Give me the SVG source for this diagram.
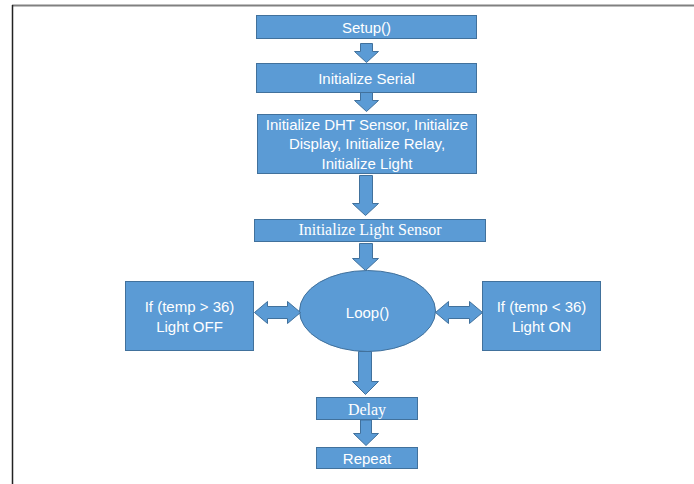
<svg xmlns="http://www.w3.org/2000/svg" width="694" height="484" viewBox="0 0 694 484">
<style>
.b{fill:#5B9BD5;stroke:#41719C;stroke-width:1}
.t{fill:#FFFFFF;font-family:"Liberation Sans",Arial,sans-serif;font-size:15px;text-anchor:middle;dominant-baseline:central}
.s{fill:#FFFFFF;font-family:"Liberation Serif","Times New Roman",serif;font-size:16px;text-anchor:middle;dominant-baseline:central}
</style>
<rect x="0" y="0" width="694" height="484" fill="#FFFFFF"/>
<line x1="12" y1="5.5" x2="694" y2="5.5" stroke="#808080" stroke-width="2"/>
<line x1="12.5" y1="5" x2="12.5" y2="484" stroke="#222222" stroke-width="1.5"/>

<g id="setup"><rect class="b" x="256.5" y="15.5" width="220" height="23"/><text class="t" x="366.5" y="27">Setup()</text></g>
<g id="serial"><rect class="b" x="256.5" y="63.5" width="220" height="29"/><text class="t" x="366.5" y="78">Initialize Serial</text></g>
<g id="init"><rect class="b" x="257.5" y="114.5" width="219" height="59"/>
<text class="t" x="367" y="124">Initialize DHT Sensor, Initialize</text>
<text class="t" x="367" y="143.5">Display, Initialize Relay,</text>
<text class="t" x="367" y="163">Initialize Light</text></g>
<g id="lightsensor"><rect class="b" x="254.5" y="219.5" width="231" height="22"/><text class="s" x="370" y="229">Initialize Light Sensor</text></g>
<g id="loop"><ellipse class="b" cx="367.5" cy="311" rx="68" ry="40.5"/><text class="t" x="367.5" y="312.5">Loop()</text></g>
<g id="off"><rect class="b" x="125.5" y="281.5" width="128" height="69"/><text class="t" x="189.5" y="306.5">If (temp &gt; 36)</text><text class="t" x="189.5" y="326.5">Light OFF</text></g>
<g id="on"><rect class="b" x="482.5" y="281.5" width="118" height="69"/><text class="t" x="541.5" y="306.5">If (temp &lt; 36)</text><text class="t" x="541.5" y="326.5">Light ON</text></g>
<g id="delay"><rect class="b" x="316.5" y="397.5" width="101" height="22"/><text class="s" x="367" y="409">Delay</text></g>
<g id="repeat"><rect class="b" x="316.5" y="447.5" width="101" height="21"/><text class="t" x="367" y="458.5">Repeat</text></g>

<g id="connectors">
<path class="b" d="M360.5,43.5 H372.5 V51.5 H378.5 L366.5,62.5 L354.5,51.5 H360.5 Z"/>
<path class="b" d="M360.5,92.5 H372.5 V100.5 H378.5 L366.5,111.5 L354.5,100.5 H360.5 Z"/>
<path class="b" d="M359.5,175.5 H372.5 V203.5 H378.5 L365.5,215.5 L352.5,203.5 H359.5 Z"/>
<path class="b" d="M359.5,243.5 H372.5 V258.5 H378.5 L365.5,270.5 L352.5,258.5 H359.5 Z"/>
<path class="b" d="M358.5,351.5 H371.5 V381.5 H378.5 L365.5,394.5 L352.5,381.5 H358.5 Z"/>
<path class="b" d="M360.5,420 H371.5 V433.5 H378.5 L366,445.5 L353.5,433.5 H360.5 Z"/>
<path class="b" d="M254.5,312.5 L267.5,301.5 V306.5 H287.5 V301.5 L300.5,312.5 L287.5,323.5 V318.5 H267.5 V323.5 Z"/>
<path class="b" d="M435.5,312.5 L448.5,301.5 V306.5 H469.5 V301.5 L482.5,312.5 L469.5,323.5 V318.5 H448.5 V323.5 Z"/>
</g>
</svg>
